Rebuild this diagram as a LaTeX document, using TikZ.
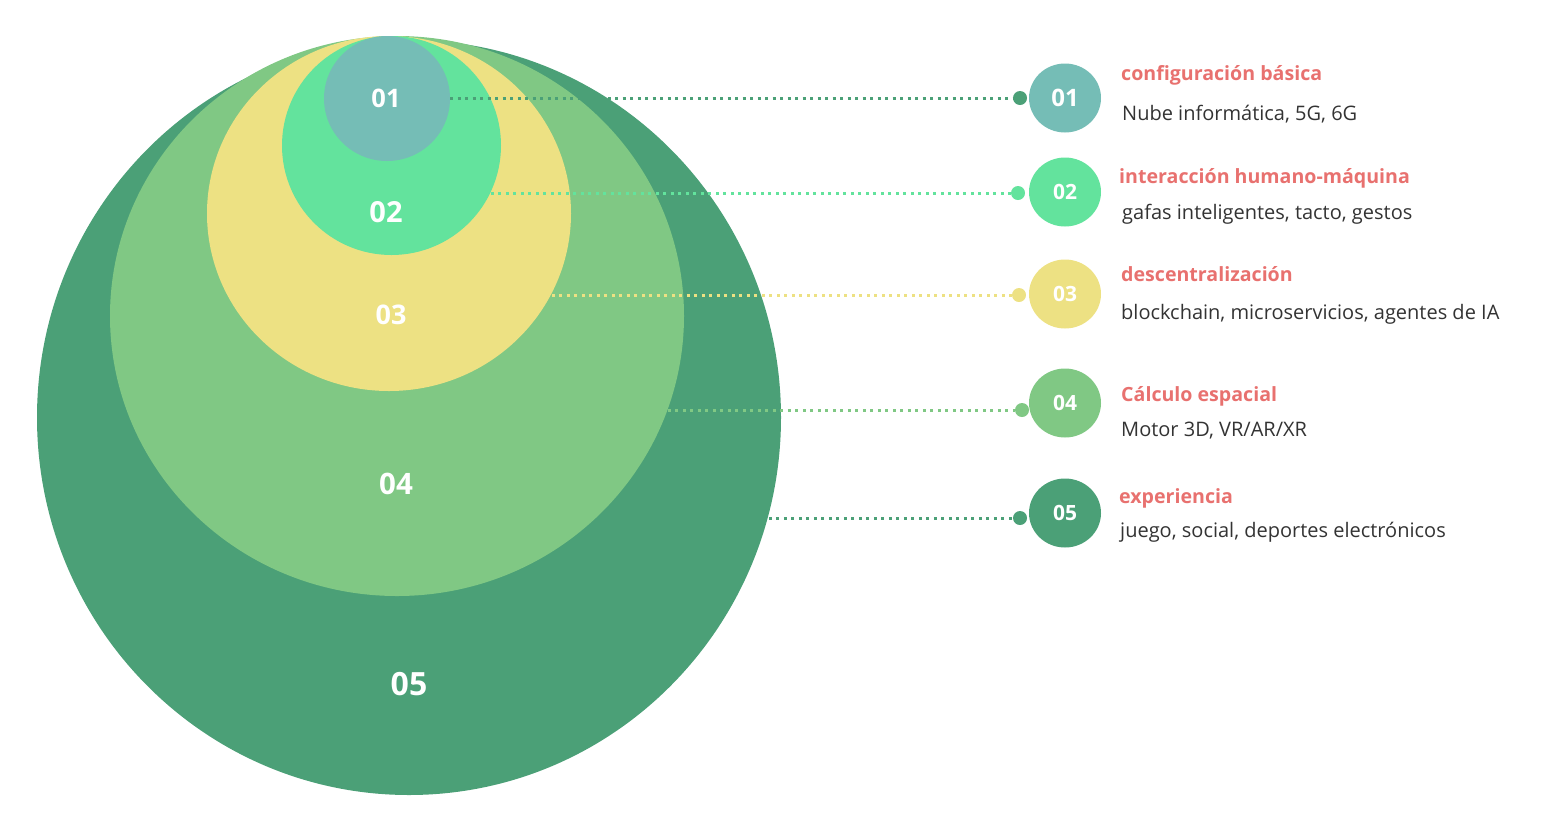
\documentclass[tikz,border=0pt]{standalone}
\usepackage{fontspec}
\setmainfont{Open Sans}
\usetikzlibrary{shapes.geometric}
\definecolor{cDark}{HTML}{4BA077}
\definecolor{cLight}{HTML}{80C884}
\definecolor{cYellow}{HTML}{EDE183}
\definecolor{cMint}{HTML}{63E39D}
\definecolor{cTeal}{HTML}{75BDB6}
\definecolor{cTitle}{HTML}{E8716F}
\definecolor{cDesc}{HTML}{333333}
\tikzset{
  blob/.style={ellipse, inner sep=0pt, draw=none, text=white, font=\bfseries},
  numball/.style={ellipse, inner sep=0pt, minimum width=72pt, minimum height=69pt, text=white, font=\bfseries\fontsize{21}{21}\selectfont},
  pin/.style={circle, inner sep=0pt, minimum size=14pt},
  leader/.style={line width=3pt, dash pattern=on 3pt off 4.5pt},
  ttl/.style={anchor=base west, inner sep=0pt, text=cTitle, font=\bfseries\fontsize{19.6}{20}\selectfont},
  dsc/.style={anchor=base west, inner sep=0pt, text=cDesc, font=\fontsize{20}{20}\selectfont},
}
\begin{document}
\begin{tikzpicture}[x=1pt, y=-1pt]
\useasboundingbox (0,0) rectangle (1545,831);
% nested ellipses
\node[blob, fill=cDark, minimum width=744pt, minimum height=755pt] (e5) at (409,417.5) {};
\node[blob, fill=cLight, minimum width=574pt, minimum height=560pt] (e4) at (397,316) {};
\node[blob, fill=cYellow, minimum width=364pt, minimum height=355pt] (e3) at (389,213.5) {};
\node[blob, fill=cMint, minimum width=219pt, minimum height=219pt] (e2) at (391.5,145.5) {};
\node[blob, fill=cTeal, minimum width=126pt, minimum height=125pt] (e1) at (387,98.5) {};
% labels on ellipses
\node[text=white, font=\bfseries\fontsize{25.5}{26}\selectfont] (l1) at (386,98) {01};
\node[text=white, font=\bfseries\fontsize{29}{29}\selectfont] (l2) at (386,212) {02};
\node[text=white, font=\bfseries\fontsize{27}{27}\selectfont] (l3) at (391,315) {03};
\node[text=white, font=\bfseries\fontsize{29.5}{30}\selectfont] (l4) at (396,484) {04};
\node[text=white, font=\bfseries\fontsize{32}{32}\selectfont] (l5) at (409,684) {05};
% right numbered balls
\node[numball, fill=cTeal, font=\bfseries\fontsize{24}{24}\selectfont] (n1) at (1065,98) {01};
\node[numball, fill=cMint] (n2) at (1065,192) {02};
\node[numball, fill=cYellow] (n3) at (1065,294) {03};
\node[numball, fill=cLight] (n4) at (1065,403) {04};
\node[numball, fill=cDark] (n5) at (1065,513) {05};
% pins
\node[pin, fill=cDark] (d1) at (1020,98) {};
\node[pin, fill=cMint] (d2) at (1018,193) {};
\node[pin, fill=cYellow] (d3) at (1019,295) {};
\node[pin, fill=cLight] (d4) at (1022,410) {};
\node[pin, fill=cDark] (d5) at (1020,518) {};
% leaders
\draw[leader, cDark] (e1.east |- d1) -- (d1);
\draw[leader, cMint] (e2.-25.4 |- d2) -- (d2);
\draw[leader, cYellow] (e3.-26.6 |- d3) -- (d3);
\draw[leader, cLight] (e4.-19.4 |- d4) -- (d4);
\draw[leader, cDark] (e5.-15.7 |- d5) -- (d5);
% texts
\node[ttl] (t1) at (1121,80) {configuración básica};
\node[dsc] (s1) at (1122,120) {Nube informática, 5G, 6G};
\node[ttl] (t2) at (1119,183) {interacción humano-máquina};
\node[dsc] (s2) at (1122,219) {gafas inteligentes, tacto, gestos};
\node[ttl] (t3) at (1121,281) {descentralización};
\node[dsc] (s3) at (1121,319) {blockchain, microservicios, agentes de IA};
\node[ttl] (t4) at (1121,401) {Cálculo espacial};
\node[dsc] (s4) at (1121,436) {Motor 3D, VR/AR/XR};
\node[ttl] (t5) at (1119,503) {experiencia};
\node[dsc] (s5) at (1120,537) {juego, social, deportes electrónicos};
\end{tikzpicture}
\end{document}
